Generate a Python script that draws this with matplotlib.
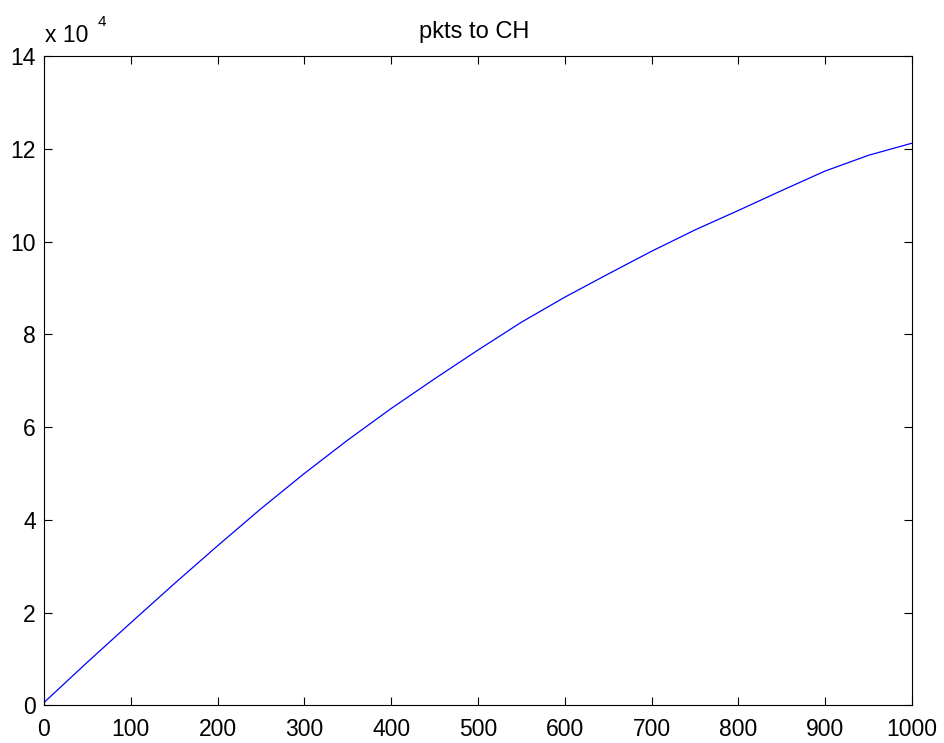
import matplotlib
matplotlib.use("Agg")
import matplotlib.pyplot as plt

plt.rcParams['font.family'] = ['Liberation Sans', 'DejaVu Sans']

x_vals = [0, 50, 100, 150, 200, 250, 300, 350, 400, 450, 500,
          550, 600, 650, 700, 750, 800, 850, 900, 950, 1000]
pkts_1e4 = [0.06, 0.93, 1.78, 2.62, 3.44, 4.24, 5.00, 5.72, 6.40, 7.04, 7.66,
            8.26, 8.80, 9.30, 9.79, 10.25, 10.67, 11.10, 11.52, 11.86, 12.12]
x_ticks = [0, 100, 200, 300, 400, 500, 600, 700, 800, 900, 1000]
y_ticks = [0, 2, 4, 6, 8, 10, 12, 14]
title = "pkts to CH"

W, H = 945, 743
fig = plt.figure(figsize=(W / 100, H / 100), dpi=100)
ax = fig.add_axes([44 / W, 1 - 705.3 / H, (912 - 44) / W, (705.3 - 56) / H])
ax.plot(x_vals, pkts_1e4, color='#0000ff', linewidth=0.9)
ax.set_xlim(0, 1000)
ax.set_ylim(0, 14)
ax.set_xticks(x_ticks)
ax.set_yticks(y_ticks)
ax.set_xticklabels([str(t) for t in x_ticks])
ax.set_yticklabels([str(t) for t in y_ticks])
ax.tick_params(direction='in', length=6, width=0.8, labelsize=16.5,
               top=True, right=True, colors='black')
ax.tick_params(axis='x', pad=9)
ax.tick_params(axis='y', pad=6)
for s in ax.spines.values():
    s.set_linewidth(0.8)
    s.set_color('black')
fig.text(474 / W, 1 - 38.3 / H, title, fontsize=17, ha='center', va='baseline')
fig.text(45 / W, 1 - 41.7 / H, "x 10", fontsize=16.5, ha='left', va='baseline')
fig.text(97.5 / W, 1 - 25.7 / H, "4", fontsize=11, ha='left', va='baseline')
fig.savefig("out.png", dpi=100)
